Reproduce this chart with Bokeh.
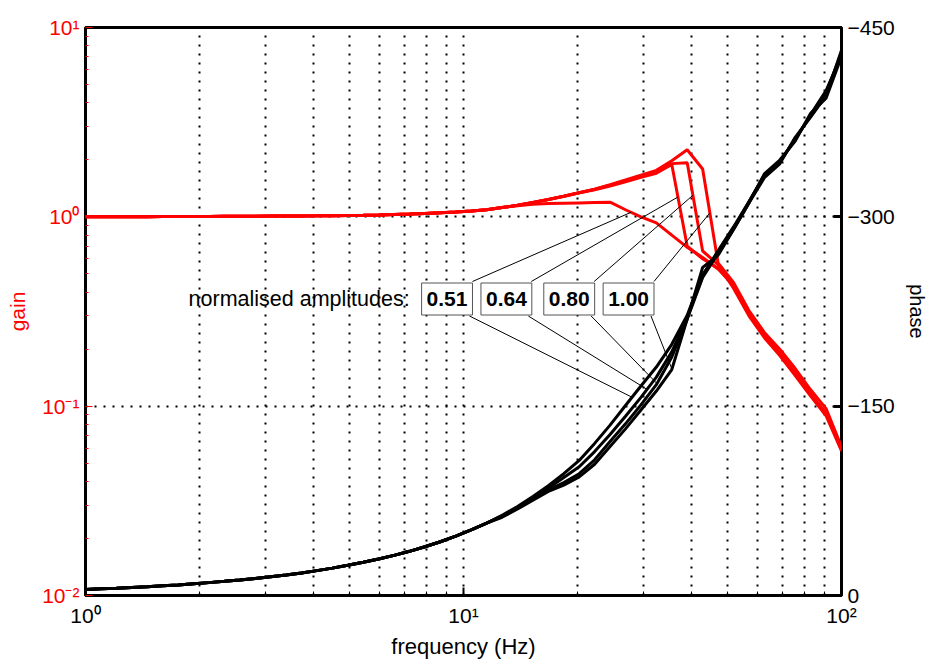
import numpy as np
from bokeh.plotting import figure
from bokeh.models import Range1d, LinearAxis, LinearScale, FixedTicker, Label
from bokeh.embed import file_html
from bokeh.resources import INLINE

# ---------------- data ----------------
freq = [1.000, 1.099, 1.207, 1.326, 1.456, 1.600, 1.758, 1.931, 2.121, 2.330,
        2.560, 2.812, 3.089, 3.393, 3.728, 4.095, 4.498, 4.942, 5.429, 5.964,
        6.551, 7.197, 7.906, 8.685, 9.541, 10.481, 11.514, 12.649, 13.895, 15.264,
        16.768, 18.421, 20.236, 22.230, 24.421, 26.827, 29.471, 32.375, 35.565, 39.069,
        42.919, 47.149, 51.795, 56.899, 62.506, 68.665, 75.431, 82.864, 91.030, 100.000]

amplitudes = ["0.51", "0.64", "0.80", "1.00"]

# gain shared by all four runs below ~12 Hz
gain_low = [1.000, 1.001, 1.001, 1.002, 1.002, 1.003, 1.003, 1.004, 1.005, 1.006,
            1.007, 1.008, 1.009, 1.010, 1.011, 1.012, 1.014, 1.017, 1.020, 1.024,
            1.029, 1.035, 1.042, 1.051, 1.062, 1.075, 1.090]
gain_051 = gain_low + [1.12, 1.145, 1.165, 1.175, 1.18, 1.185, 1.19, 1.195, 1.09, 1.00,
                       0.93, 0.80, 0.69, 0.61, 0.53, 0.44, 0.31, 0.24, 0.19, 0.150,
                       0.117, 0.090, 0.060]
gain_064 = gain_low + [1.12, 1.15, 1.19, 1.235, 1.285, 1.34, 1.39, 1.455, 1.53, 1.615,
                       1.70, 1.89, 0.70, 0.60, 0.535, 0.43, 0.31, 0.235, 0.19, 0.148,
                       0.115, 0.092, 0.059]
gain_080 = gain_low + [1.12, 1.15, 1.19, 1.235, 1.285, 1.34, 1.40, 1.47, 1.55, 1.64,
                       1.73, 1.91, 1.93, 0.66, 0.56, 0.42, 0.30, 0.23, 0.185, 0.145,
                       0.113, 0.089, 0.058]
gain_100 = gain_low + [1.12, 1.15, 1.19, 1.235, 1.285, 1.34, 1.40, 1.48, 1.565, 1.66,
                       1.76, 1.98, 2.26, 1.79, 0.57, 0.45, 0.32, 0.245, 0.20, 0.158,
                       0.122, 0.097, 0.061]

# phase (deg) shared below ~12 Hz
phase_low = [-4.8, -5.3, -5.8, -6.4, -7.0, -7.7, -8.4, -9.3, -10.2, -11.2,
             -12.3, -13.5, -14.8, -16.3, -17.9, -19.7, -21.7, -23.9, -26.3, -28.9,
             -31.8, -35.0, -38.6, -42.6, -47.0, -52.0, -57.3]
phase_051 = phase_low + [-63.5, -70.5, -78.5, -87, -96.5, -107, -120.5, -135, -150.5, -166,
                         -181, -199, -222, -254, -273, -292, -312, -333, -343, -362,
                         -380, -398, -430]
phase_064 = phase_low + [-63, -69.5, -77, -85, -93.5, -102, -114, -127.5, -142, -157,
                         -173, -193, -220, -253, -272, -291, -312, -333, -344, -361,
                         -381, -400, -428]
phase_080 = phase_low + [-62.5, -69, -76, -83.5, -89.5, -96.5, -107.5, -122, -136, -151,
                         -167, -189, -219, -252, -271, -290, -311, -331, -342, -363,
                         -379, -396, -432]
phase_100 = phase_low + [-62, -68.5, -75.5, -82.5, -87.5, -94, -104, -118, -132, -147,
                         -162, -179, -219, -260, -269.5, -290, -311, -334, -345, -360,
                         -382, -394, -427]

gains = [gain_051, gain_064, gain_080, gain_100]
phases = [phase_051, phase_064, phase_080, phase_100]

x_ticks = [1, 10, 100]
x_tick_labels = ["10\u2070", "10\u00b9", "10\u00b2"]
y_ticks = [0.01, 0.1, 1, 10]
y_tick_labels = ["10\u207b\u00b2", "10\u207b\u00b9", "10\u2070", "10\u00b9"]
phase_ticks = [0, -150, -300, -450]
phase_tick_labels = ["0", "\u2212150", "\u2212300", "\u2212450"]

# ---------------- layout constants ----------------
W, H = 930, 662
FL, FT, FW, FH = 85, 27, 758, 568
FONT = "Liberation Sans"
RED = "#ff0000"


def px2f(px):
    return 10 ** ((px - FL) / FW * 2.0)


def py2g(py):
    return 10 ** (1.0 - (py - FT) / FH * 3.0)


def ph2g(ph):
    return 10 ** (-2.0 + 3.0 * (-ph) / 450.0)


def gain_at(fq, g):
    return 10 ** np.interp(np.log10(fq), np.log10(freq), np.log10(g))


def phase_at(fq, ph):
    return np.interp(np.log10(fq), np.log10(freq), ph)


p = figure(width=W, height=H, x_axis_type="log", y_axis_type="log",
           x_range=Range1d(1, 100), y_range=Range1d(0.01, 10),
           output_backend="svg", toolbar_location=None,
           min_border_left=FL, min_border_right=W - FL - FW,
           min_border_top=FT, min_border_bottom=H - FT - FH)
p.extra_y_ranges = {"phase": Range1d(0, -450)}
p.extra_y_scales = {"phase": LinearScale()}

p.outline_line_color = "black"
p.outline_line_width = 3
p.background_fill_color = "white"
p.border_fill_color = "white"

# x axis
xminor = [2, 3, 4, 5, 6, 7, 8, 9, 20, 30, 40, 50, 60, 70, 80, 90]
xa = p.xaxis[0]
xa.ticker = FixedTicker(ticks=x_ticks, minor_ticks=xminor)
xa.major_label_overrides = dict(zip(x_ticks, x_tick_labels))
xa.axis_line_color = None
xa.major_tick_in = 8
xa.major_tick_out = 0
xa.minor_tick_in = 4
xa.minor_tick_out = 0
xa.major_tick_line_width = 2
xa.major_tick_line_color = "black"
xa.minor_tick_line_color = "black"
xa.major_label_text_color = "black"
xa.major_label_text_font = FONT
xa.major_label_text_font_size = "21px"
xa.major_label_standoff = 8
xa.axis_label = "frequency (Hz)"
xa.axis_label_text_color = "black"
xa.axis_label_text_font = FONT
xa.axis_label_text_font_size = "22px"
xa.axis_label_text_font_style = "normal"
xa.axis_label_standoff = 4

# left gain axis
yminor = [0.02, 0.03, 0.04, 0.05, 0.06, 0.07, 0.08, 0.09,
          0.2, 0.3, 0.4, 0.5, 0.6, 0.7, 0.8, 0.9,
          2, 3, 4, 5, 6, 7, 8, 9]
ya = p.yaxis[0]
ya.ticker = FixedTicker(ticks=y_ticks, minor_ticks=yminor)
ya.major_label_overrides = dict(zip(y_ticks, y_tick_labels))
ya.axis_line_color = None
ya.major_tick_in = 7
ya.major_tick_out = 0
ya.minor_tick_in = 3
ya.minor_tick_out = 0
ya.major_tick_line_color = RED
ya.minor_tick_line_color = RED
ya.major_label_text_color = RED
ya.major_label_text_font = FONT
ya.major_label_text_font_size = "21px"
ya.major_label_standoff = 6
ya.axis_label = "gain"
ya.axis_label_text_color = RED
ya.axis_label_text_font = FONT
ya.axis_label_text_font_size = "21px"
ya.axis_label_text_font_style = "normal"
ya.axis_label_standoff = 10

# right phase axis
pa = LinearAxis(y_range_name="phase", ticker=FixedTicker(ticks=phase_ticks, minor_ticks=[]))
pa.major_label_overrides = dict(zip(phase_ticks, phase_tick_labels))
pa.axis_line_color = None
pa.major_tick_in = 8
pa.major_tick_out = 0
pa.major_tick_line_width = 3
pa.major_tick_line_color = "black"
pa.major_label_text_color = "black"
pa.major_label_text_font = FONT
pa.major_label_text_font_size = "21px"
pa.major_label_standoff = 6
pa.axis_label = "phase"
pa.axis_label_text_color = "black"
pa.axis_label_text_font = FONT
pa.axis_label_text_font_size = "20px"
pa.axis_label_text_font_style = "normal"
pa.axis_label_standoff = 8
p.add_layout(pa, "right")

# grids
p.xgrid.ticker = FixedTicker(ticks=[10], minor_ticks=xminor)
p.xgrid.grid_line_color = "black"
p.xgrid.grid_line_dash = "2 7"
p.xgrid.grid_line_width = 2
p.xgrid.minor_grid_line_color = "black"
p.xgrid.minor_grid_line_dash = "2 7"
p.xgrid.minor_grid_line_width = 2
p.ygrid.ticker = FixedTicker(ticks=[0.1, 1], minor_ticks=[])
p.ygrid.grid_line_color = "black"
p.ygrid.grid_line_dash = "2 7"
p.ygrid.grid_line_width = 2

# curves
for g in gains:
    p.line(freq, g, line_color=RED, line_width=3)
for ph in phases:
    p.line(freq, ph, y_range_name="phase", line_color="black", line_width=3)

# annotation boxes and leader lines
box_cx = [447.5, 507, 570, 629.5]
box_hw = [25.5, 25, 25, 25.5]
box_top, box_bot, box_cy = 281, 315.5, 298.5
gain_end_px = [632, 679, 694, 711]
phase_end_px = [633, 648, 658, 673]

x0s, y0s, x1s, y1s = [], [], [], []
for i in range(4):
    fe = px2f(gain_end_px[i])
    x0s.append(px2f(box_cx[i] + box_hw[i]))
    y0s.append(py2g(box_top))
    x1s.append(fe)
    y1s.append(gain_at(fe, gains[i]))
    fp = px2f(phase_end_px[i])
    x0s.append(px2f(box_cx[i] + box_hw[i] - 3))
    y0s.append(py2g(box_bot))
    x1s.append(fp)
    y1s.append(ph2g(phase_at(fp, phases[i])))
p.segment(x0s, y0s, x1s, y1s, line_color="black", line_width=1)

p.add_layout(Label(x=px2f(410), y=py2g(box_cy), text="normalised amplitudes:",
                   text_align="right", text_baseline="middle", text_font=FONT,
                   text_font_size="21.5px", text_color="black"))
for i, a in enumerate(amplitudes):
    p.add_layout(Label(x=px2f(box_cx[i]), y=py2g(box_cy), text=a,
                       text_align="center", text_baseline="middle", text_font=FONT,
                       text_font_style="bold", text_font_size="21px", text_color="black",
                       background_fill_color="white", border_line_color="#555555",
                       border_line_width=1, padding=(5, 9)))

open("out.html", "w").write(file_html(p, INLINE))
